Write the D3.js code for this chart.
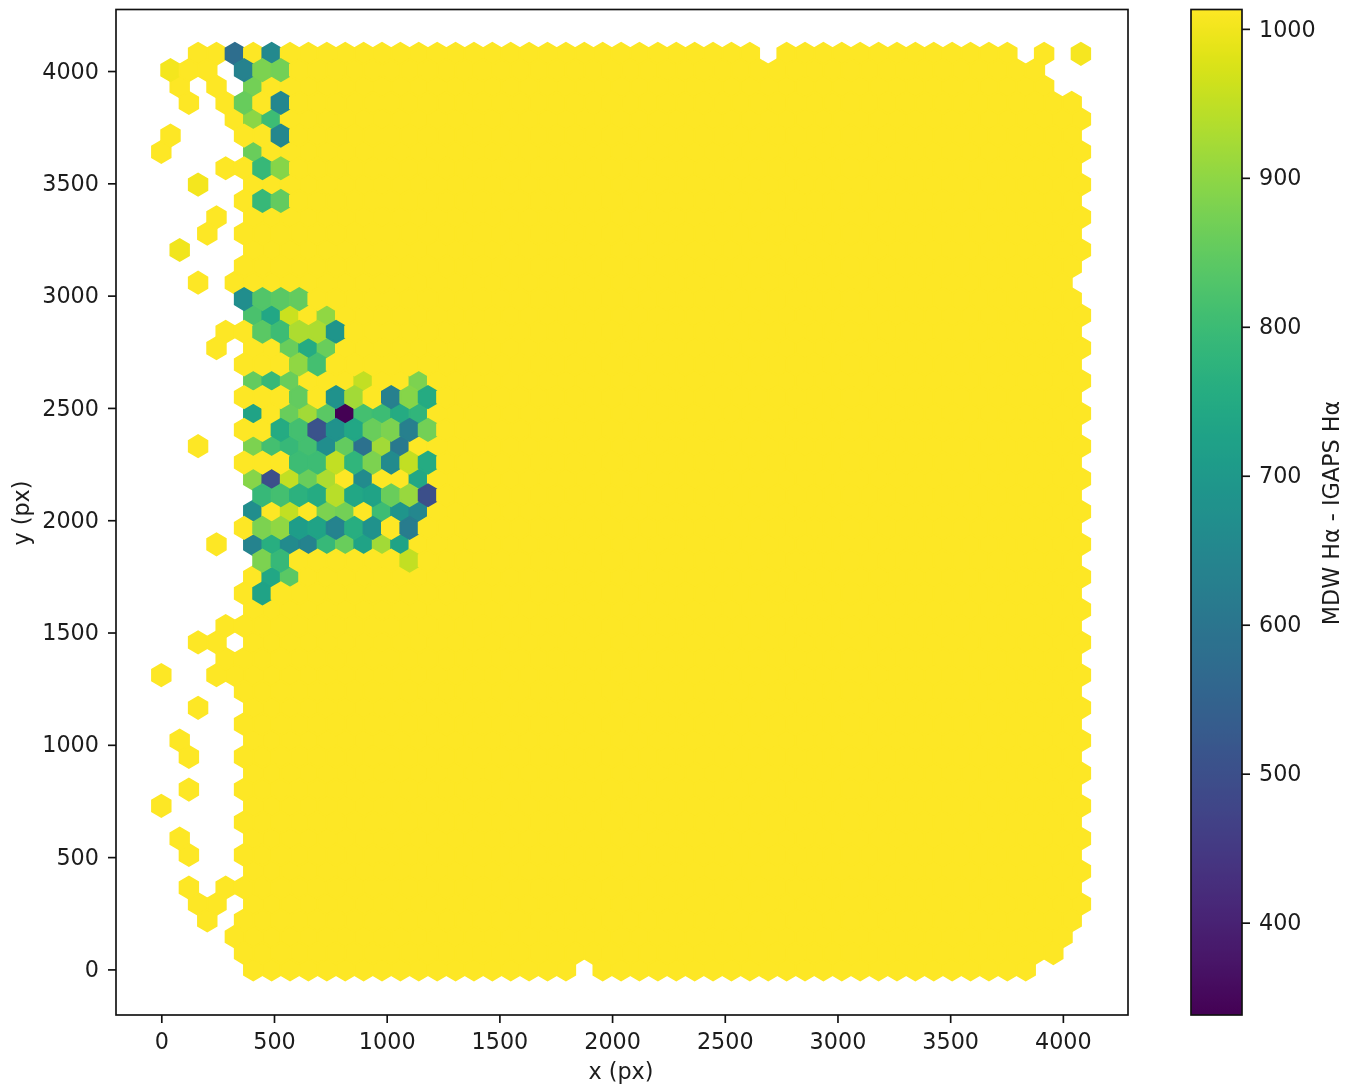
<!DOCTYPE html>
<html>
<head>
<meta charset="utf-8">
<script src="https://cdnjs.cloudflare.com/ajax/libs/d3/7.8.5/d3.min.js"></script>
<style>
html,body{margin:0;padding:0;background:#fff;}
svg{display:block;filter:blur(0.45px);}
text{font-family:"DejaVu Sans",sans-serif;font-size:22.3px;fill:#1c1c1c;}
</style>
</head>
<body>
<svg id="chart" width="1349" height="1088"></svg>
<script>
// Hexagon bins: half-column step and row step in pixels of the detector (data units)
const halfBinX = 40.8;
const binY = 72.8;
const xTicks = [0,500,1000,1500,2000,2500,3000,3500,4000];
const yTicks = [0,500,1000,1500,2000,2500,3000,3500,4000];
const colorTicks = [400,500,600,700,800,900,1000];
const valueMin = 338, valueMax = 1013;

// Occupied bins for each row (index = row), as [first column, last column] runs.
const rowSpans = [
 [[10,44],[48,94]], [[9,97]], [[8,98]], [[5,5],[9,99]], [[4,6],[10,100]],
 [[3,3],[7,99]], [[10,100]], [[3,3],[9,99]], [[2,2],[10,100]], [[9,99]],
 [[0,0],[10,100]], [[3,3],[9,99]], [[10,100]], [[3,3],[9,99]], [[2,2],[10,100]],
 [[9,99]], [[4,4],[10,100]], [[9,99]], [[0,0],[6,100]], [[7,99]],
 [[4,6],[10,100]], [[7,99]], [[10,100]], [[9,99]], [[10,100]],
 [[11,99]], [[6,6],[10,100]], [[9,99]], [[10,100]], [[11,99]],
 [[10,100]], [[9,99]], [[4,4],[10,100]], [[9,99]], [[10,100]],
 [[9,99]], [[10,100]], [[9,99]], [[6,6],[10,100]], [[7,99]],
 [[10,100]], [[9,99]], [[4,4],[8,98]], [[9,99]], [[2,2],[10,100]],
 [[5,5],[9,99]], [[6,6],[10,100]], [[9,99]], [[4,4],[10,100]], [[7,99]],
 [[0,0],[10,100]], [[1,1],[9,99]], [[8,100]], [[3,3],[7,99]], [[2,2],[6,6],[10,96]],
 [[1,5],[9,95]], [[4,64],[68,92],[96,96],[100,100]]
];

// Bins whose value differs from the saturated maximum: [row, column, value]
const lowCells = [
 [56,8,580],[56,12,655],[55,9,635],[55,11,880],[55,13,870],[54,10,870],
 [53,9,855],[53,13,650],[52,10,895],[52,12,800],[51,13,650],[50,10,860],
 [49,11,790],[49,13,890],[47,11,790],[47,13,850],
 [41,9,670],[41,11,830],[41,13,840],[41,15,850],
 [40,10,820],[40,12,740],[40,14,960],[40,18,900],
 [39,11,840],[39,13,800],[39,15,930],[39,17,930],[39,19,690],
 [38,14,860],[38,16,750],[38,18,860],
 [37,15,900],[37,17,810],
 [36,10,850],[36,12,790],[36,14,860],[36,22,950],[36,28,880],
 [35,15,850],[35,19,680],[35,21,920],[35,25,630],[35,27,890],[35,29,750],
 [34,10,730],[34,14,860],[34,16,920],[34,18,840],[34,20,338],[34,22,810],[34,24,800],[34,26,750],[34,28,780],
 [33,13,750],[33,15,810],[33,17,510],[33,19,680],[33,21,740],[33,23,860],[33,25,880],[33,27,630],[33,29,870],
 [32,10,880],[32,12,810],[32,14,790],[32,16,810],[32,18,670],[32,20,850],[32,22,590],[32,24,920],[32,26,610],
 [31,15,800],[31,17,800],[31,19,950],[31,21,780],[31,23,880],[31,25,660],[31,27,950],[31,29,750],
 [30,10,890],[30,12,500],[30,14,950],[30,16,860],[30,18,930],[30,22,660],[30,28,740],
 [29,11,790],[29,13,810],[29,15,770],[29,17,750],[29,19,940],[29,21,740],[29,23,730],[29,25,860],[29,27,910],[29,29,500],
 [28,10,670],[28,14,950],[28,18,880],[28,20,870],[28,24,800],[28,26,690],[28,28,650],
 [27,11,880],[27,13,900],[27,15,710],[27,17,730],[27,19,640],[27,21,760],[27,23,680],[27,27,620],
 [26,10,640],[26,12,760],[26,14,660],[26,16,640],[26,18,790],[26,20,860],[26,22,730],[26,24,920],[26,26,730],
 [25,11,880],[25,13,790],[25,27,950],
 [24,12,740],[24,14,840],
 [23,11,730],
 [55,1,1000],[44,2,998],[48,4,1000],[56,100,1004]
];

const svg = d3.select("#chart");
const plotLeft = 116, plotRight = 1128, plotTop = 9.5, plotBottom = 1015;
const cbLeft = 1191, cbRight = 1242;

const x = d3.scaleLinear().domain([-201,4289]).range([plotLeft,plotRight]);
const y = d3.scaleLinear().domain([-203,4274]).range([plotBottom,plotTop]);
const colorValue = d3.scaleSequential(d3.interpolateViridis).domain([valueMin,valueMax]);
const cb = d3.scaleLinear().domain([valueMin,valueMax]).range([plotBottom,plotTop]);

// Assemble bins
const overrides = new Map(lowCells.map(d => [d[0]+"_"+d[1], d[2]]));
const bins = [];
rowSpans.forEach((spans,row) => {
  spans.forEach(([a,b]) => {
    for (let col=a; col<=b; col+=2) {
      bins.push({row, col, value: overrides.has(row+"_"+col) ? overrides.get(row+"_"+col) : valueMax});
    }
  });
});
// even rows are painted first, as in the two lattices of a hexbin
bins.sort((p,q) => (p.row%2)-(q.row%2));

const hexOffsets = [[1,-1/3],[1,1/3],[0,2/3],[-1,1/3],[-1,-1/3],[0,-2/3]];
const hexPath = d3.line().x(d => x(d[0])).y(d => y(d[1])).curve(d3.curveLinearClosed);

const defs = svg.append("defs");
defs.append("clipPath").attr("id","plot")
  .append("rect").attr("x",plotLeft).attr("y",plotTop).attr("width",plotRight-plotLeft).attr("height",plotBottom-plotTop);

svg.append("g").attr("clip-path","url(#plot)").selectAll("path").data(bins).join("path")
  .attr("d", d => hexPath(hexOffsets.map(o => [d.col*halfBinX + o[0]*halfBinX, d.row*binY + o[1]*binY])))
  .attr("fill", d => colorValue(d.value))
  .attr("stroke", d => colorValue(d.value))
  .attr("stroke-width", 2.05)
  .attr("stroke-linejoin","miter");

function styleAxis(g){
  g.select(".domain").remove();
  g.selectAll(".tick line").attr("stroke","#111").attr("stroke-width",1.67);
}

svg.append("g").attr("transform",`translate(0,${plotBottom})`)
  .call(d3.axisBottom(x).tickValues(xTicks).tickFormat(d3.format("d")).tickSize(8).tickPadding(10))
  .call(styleAxis);

svg.append("g").attr("transform",`translate(${plotLeft},0)`)
  .call(d3.axisLeft(y).tickValues(yTicks).tickFormat(d3.format("d")).tickSize(8).tickPadding(9))
  .call(styleAxis);

// Frame
svg.append("rect").attr("x",plotLeft).attr("y",plotTop).attr("width",plotRight-plotLeft).attr("height",plotBottom-plotTop)
  .attr("fill","none").attr("stroke","#111").attr("stroke-width",1.67);

// Colour bar
const grad = defs.append("linearGradient").attr("id","cbGrad").attr("x1",0).attr("x2",0).attr("y1",1).attr("y2",0);
grad.selectAll("stop").data(d3.range(256)).join("stop")
  .attr("offset",d => d/255)
  .attr("stop-color",d => colorValue(valueMin + (valueMax-valueMin)*d/255));
svg.append("rect").attr("x",cbLeft).attr("y",plotTop).attr("width",cbRight-cbLeft).attr("height",plotBottom-plotTop)
  .attr("fill","url(#cbGrad)").attr("stroke","#111").attr("stroke-width",1.67);
svg.append("g").attr("transform",`translate(${cbRight},0)`)
  .call(d3.axisRight(cb).tickValues(colorTicks).tickFormat(d3.format("d")).tickSize(8).tickPadding(9))
  .call(styleAxis);

// Remove library-set font so the stylesheet applies
svg.selectAll("g").attr("font-family",null).attr("font-size",null);

// Axis labels
svg.append("text").attr("x",621).attr("y",1079).attr("text-anchor","middle").text("x (px)");
svg.append("text").attr("transform","translate(29,513) rotate(-90)").attr("text-anchor","middle").text("y (px)");
svg.append("text").attr("transform","translate(1339,513) rotate(-90)").attr("text-anchor","middle").text("MDW Hα - IGAPS Hα");
</script>
</body>
</html>
